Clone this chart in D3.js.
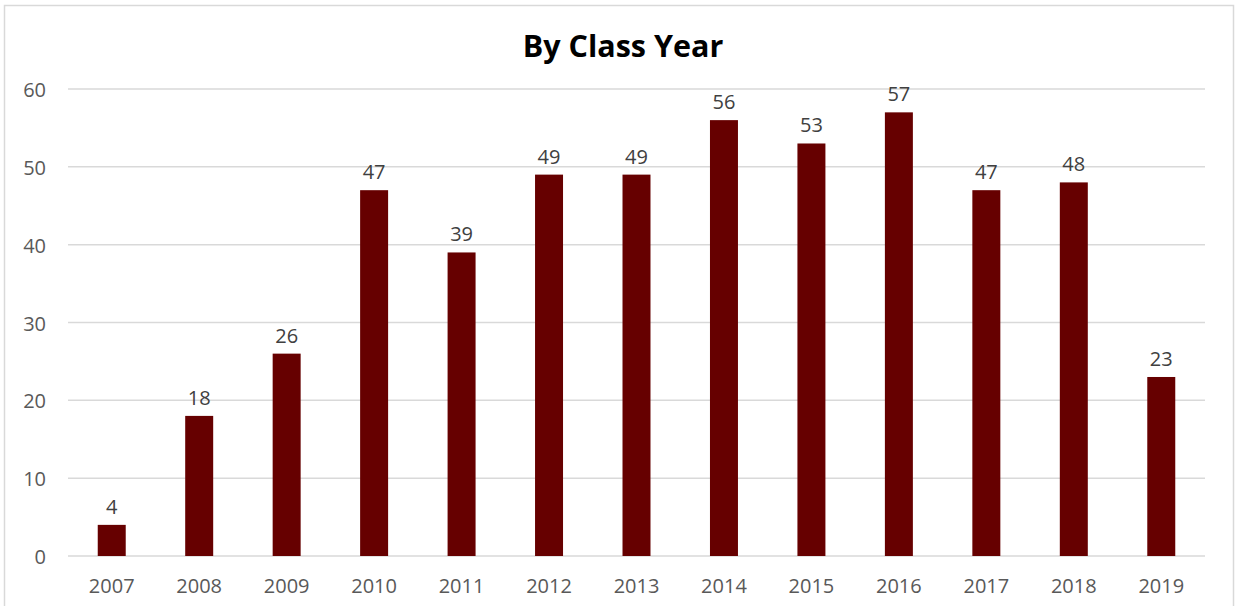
<!DOCTYPE html>
<html lang="en">
<head>
    <meta charset="UTF-8">
    <title>By Class Year</title>
    <script src="https://d3js.org/d3.v7.min.js"></script>
    <style>
        body { margin: 0; background: #fff; font-family: "Open Sans", sans-serif; }
        svg { display: block; }
        .grid line { stroke: #d9d9d9; stroke-width: 1.5px; }
        .tick-label { fill: #595959; font-size: 20px; }
        .value-label { fill: #404040; font-size: 20px; }
        .bar { fill: #660000; }
    </style>
</head>
<body>
    <svg></svg>
    <script>
        const years = ["2007", "2008", "2009", "2010", "2011", "2012", "2013",
                       "2014", "2015", "2016", "2017", "2018", "2019"];
        const counts = [4, 18, 26, 47, 39, 49, 49, 56, 53, 57, 47, 48, 23];
        const yTicks = [0, 10, 20, 30, 40, 50, 60];

        const width = 1235, height = 606;
        const margin = { top: 89, right: 30, bottom: 50, left: 68 };

        const svg = d3.select("svg")
            .attr("width", width)
            .attr("height", height);

        // chart frame
        svg.append("rect")
            .attr("x", 4.5).attr("y", 5.5)
            .attr("width", 1229).attr("height", 610)
            .attr("fill", "none")
            .attr("stroke", "#d9d9d9")
            .attr("stroke-width", 1.5);

        const x = d3.scaleBand()
            .domain(years)
            .range([margin.left, 1205])
            .paddingInner(0.68)
            .paddingOuter(0.34);

        const y = d3.scaleLinear()
            .domain([0, 60])
            .range([556, margin.top]);

        svg.append("text")
            .attr("x", 623)
            .attr("y", 57)
            .attr("text-anchor", "middle")
            .attr("font-size", "30.5px")
            .attr("font-weight", "bold")
            .attr("fill", "#000")
            .text("By Class Year");

        // gridlines
        svg.append("g")
            .attr("class", "grid")
            .selectAll("line")
            .data(yTicks)
            .enter().append("line")
            .attr("x1", margin.left).attr("x2", 1205)
            .attr("y1", d => y(d)).attr("y2", d => y(d));

        // y tick labels
        svg.append("g")
            .selectAll("text")
            .data(yTicks)
            .enter().append("text")
            .attr("class", "tick-label")
            .attr("x", 46)
            .attr("y", d => y(d) + 8)
            .attr("text-anchor", "end")
            .text(d => d);

        // bars
        svg.append("g")
            .selectAll("rect")
            .data(counts)
            .enter().append("rect")
            .attr("class", "bar")
            .attr("x", (d, i) => x(years[i]))
            .attr("width", x.bandwidth())
            .attr("y", d => y(d))
            .attr("height", d => y(0) - y(d));

        // value labels
        svg.append("g")
            .selectAll("text")
            .data(counts)
            .enter().append("text")
            .attr("class", "value-label")
            .attr("x", (d, i) => x(years[i]) + x.bandwidth() / 2)
            .attr("y", d => y(d) - 11)
            .attr("text-anchor", "middle")
            .text(d => d);

        // x labels
        svg.append("g")
            .selectAll("text")
            .data(years)
            .enter().append("text")
            .attr("class", "tick-label")
            .attr("x", d => x(d) + x.bandwidth() / 2)
            .attr("y", 593)
            .attr("text-anchor", "middle")
            .text(d => d);
    </script>
</body>
</html>
